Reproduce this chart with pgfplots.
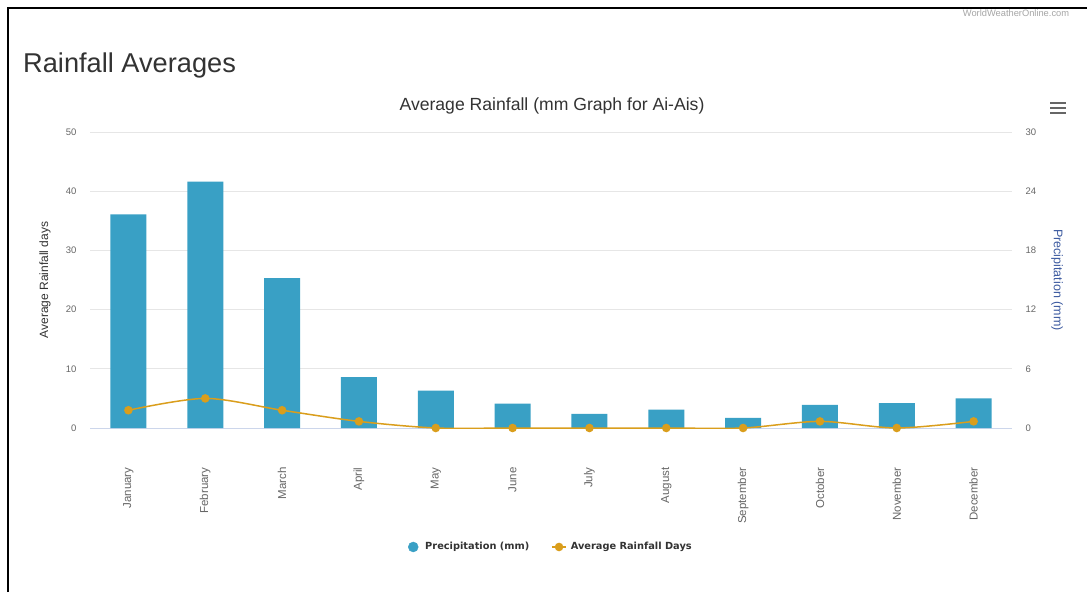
\documentclass[border=0pt]{standalone}
\usepackage{fontspec}
\setmainfont{Liberation Sans}
\newfontfamily\legfont{DejaVu Sans}
\usepackage{pgfplots}
\pgfplotsset{compat=1.18}
\pgfplotsset{shortline legend/.style={legend image code/.code={\draw[mark repeat=2,mark phase=2,##1] plot coordinates {(0pt,0pt) (7pt,0pt) (14pt,0pt)};}}}
\definecolor{barc}{RGB}{57,160,197}
\definecolor{linec}{RGB}{218,158,28}
\definecolor{gridc}{RGB}{230,230,230}
\definecolor{xaxc}{RGB}{204,214,235}
\definecolor{tickc}{RGB}{102,102,102}
\definecolor{titc}{RGB}{51,51,51}
\definecolor{rlab}{RGB}{60,90,160}
\begin{document}
\begin{tikzpicture}
\path[use as bounding box, fill=white] (0,0) rectangle (1087pt,592pt);
\draw[black, line width=1.5pt] (8pt,0pt) -- (8pt,584pt) -- (1087pt,584pt);
\node[anchor=base, text=gray!70, font=\fontsize{9.3}{10}\selectfont] at (1016pt,575pt) {WorldWeatherOnline.com};
\node[anchor=base west, inner sep=0pt, text=titc, font=\fontsize{27.2}{32}\selectfont] at (23pt,519pt) {Rainfall Averages};
\node[anchor=base, inner sep=0pt, text=titc, font=\fontsize{17.6}{21}\selectfont] at (552pt,481pt) {Average Rainfall (mm Graph for Ai-Ais)};
\draw[tickc, line width=2.4pt] (1050pt,489pt) -- (1066pt,489pt) (1050pt,484pt) -- (1066pt,484pt) (1050pt,479pt) -- (1066pt,479pt);
\begin{axis}[
  at={(90pt,164pt)}, anchor=south west,
  scale only axis, width=922pt, height=296pt,
  xmin=-0.5, xmax=11.5, ymin=0, ymax=50,
  xtick={0,...,11},
  xticklabels={January,February,March,April,May,June,July,August,September,October,November,December},
  ytick={0,10,...,50},
  ymajorgrids, grid style={gridc, line width=0.8pt},
  axis x line*=bottom, axis y line*=left,
  x axis line style={draw=xaxc, line width=0.8pt, -},
  y axis line style={draw=none},
  major tick length=0pt, tick style={draw=none},
  /pgf/number format/assume math mode=true,
  yticklabel style={text=tickc, font=\fontsize{9.5}{10}\selectfont, xshift=-10pt},
  xticklabel style={text=tickc, font=\fontsize{11.5}{12}\selectfont, rotate=90, anchor=east},
  xticklabel shift=36pt,
  ylabel={Average Rainfall days},
  every axis y label/.style={at={(axis description cs:-0.0488,0.5)}, rotate=90, anchor=center, text=titc, font=\fontsize{12}{13}\selectfont},
]
\addplot[ybar, bar width=36pt, fill=barc, draw=none] coordinates {
(0,36.1) (1,41.6) (2,25.3) (3,8.6) (4,6.3) (5,4.1) (6,2.4) (7,3.1) (8,1.7) (9,3.9) (10,4.2) (11,5.0)};
\end{axis}
\begin{axis}[
  at={(90pt,164pt)}, anchor=south west,
  scale only axis, width=922pt, height=296pt,
  xmin=-0.5, xmax=11.5, ymin=0, ymax=30,
  ytick={0,6,...,30},
  axis x line=none, axis y line*=right,
  y axis line style={draw=none},
  major tick length=0pt, tick style={draw=none},
  /pgf/number format/assume math mode=true,
  yticklabel style={text=tickc, font=\fontsize{9.5}{10}\selectfont, xshift=10pt},
  ylabel={Precipitation (mm)},
  every axis y label/.style={at={(axis description cs:1.0488,0.5)}, rotate=-90, anchor=center, text=rlab, font=\fontsize{12.5}{13}\selectfont},
  legend style={at={(axis description cs:0.5,-0.402)}, anchor=center, draw=none, fill=none,
    font=\legfont\bfseries\fontsize{9.8}{12}\selectfont, text=titc, legend columns=2,
    /tikz/every even column/.append style={column sep=20pt}},
]
\addlegendimage{only marks, mark=*, mark size=5pt, color=barc}
\addlegendentry{\hspace{5pt}Precipitation (mm)}
\addplot[color=linec, line width=1.5pt, smooth, mark=*, mark size=3.5pt, mark options={fill=linec, draw=linec}, shortline legend] coordinates {
(0,1.8) (1,3.0) (2,1.8) (3,0.67) (4,0) (5,0) (6,0) (7,0) (8,0) (9,0.67) (10,0) (11,0.67)};
\addlegendentry{\hspace{2pt}Average Rainfall Days}
\end{axis}
\end{tikzpicture}
\end{document}
